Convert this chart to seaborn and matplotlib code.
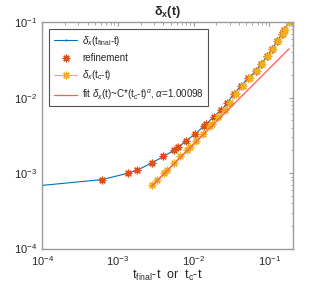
import matplotlib
matplotlib.use("Agg")
import matplotlib.pyplot as plt
import seaborn as sns

# delta_x vs (t_final - t)
t_final_gap = [1.0e-4, 6.2e-4, 1.38e-3, 1.79e-3, 2.8e-3, 4.0e-3, 5.5e-3, 6.3e-3, 8.0e-3,
               1.06e-2, 1.36e-2, 1.48e-2, 1.85e-2, 2.33e-2, 2.8e-2, 3.4e-2, 4.2e-2,
               5.3e-2, 6.6e-2, 7.8e-2, 9.4e-2, 0.110, 0.128, 0.147, 0.158, 0.180]
delta_x = [6.87e-4, 8.2e-4, 1.0e-3, 1.09e-3, 1.36e-3, 1.66e-3, 2.0e-3, 2.2e-3, 2.7e-3,
           3.3e-3, 4.2e-3, 4.5e-3, 5.6e-3, 6.9e-3, 8.5e-3, 1.13e-2, 1.41e-2,
           1.84e-2, 2.22e-2, 2.81e-2, 3.52e-2, 4.45e-2, 5.6e-2, 7.0e-2, 7.8e-2, 0.1]
# same samples against (t_c - t)
t_c_gap = [2.8e-3, 3.32e-3, 4.08e-3, 4.49e-3, 5.5e-3, 6.7e-3, 8.2e-3, 9.0e-3, 1.07e-2,
           1.33e-2, 1.63e-2, 1.75e-2, 2.12e-2, 2.6e-2, 3.07e-2, 3.67e-2, 4.47e-2,
           5.57e-2, 6.87e-2, 8.07e-2, 9.67e-2, 0.1127, 0.1307, 0.1497, 0.1607, 0.1827]
# refinement points (on the t_final curve)
ref_x = t_final_gap[1:]
ref_y = delta_x[1:]
# power-law fit end points
fit_x = [2.8e-3, 0.1827]
fit_y = [6.7e-4, 0.0444]

blue, orange, yellow, red = "#0072BD", "#D95319", "#EDB120", "#FF5A5A"

sns.set_style("white")
plt.rcParams["font.family"] = ["Liberation Sans", "DejaVu Sans"]
plt.rcParams["mathtext.fontset"] = "custom"
plt.rcParams["mathtext.rm"] = "Liberation Sans"
plt.rcParams["mathtext.it"] = "Liberation Sans:italic"
plt.rcParams["mathtext.bf"] = "Liberation Sans:bold"

fig = plt.figure(figsize=(3.24, 2.88), dpi=100)
ax = fig.add_axes([0.130, 0.137, 0.774, 0.786])
ax.set_xscale("log")
ax.set_yscale("log")

star = (8, 2, 0)
sns.lineplot(x=t_final_gap, y=delta_x, sort=False, estimator=None, ax=ax, color=blue,
             lw=0.8, marker=".", markersize=3, markeredgewidth=0,
             label=r"$\delta_x$(t$_{\mathrm{final}}$-t)")
sns.lineplot(x=ref_x, y=ref_y, sort=False, estimator=None, ax=ax, color=orange,
             linestyle="", marker=star, markersize=5.5, markeredgewidth=0.9,
             markeredgecolor=orange, label="refinement")
sns.lineplot(x=t_c_gap, y=delta_x, sort=False, estimator=None, ax=ax, color=yellow,
             lw=0.7, marker=star, markersize=5.5, markeredgewidth=0.9,
             markeredgecolor=yellow, label=r"$\delta_x$(t$_{\mathrm{c}}$-t)")
sns.lineplot(x=fit_x, y=fit_y, sort=False, estimator=None, ax=ax, color=red, lw=0.9,
             label=r"fit $\delta_x$(t)~C*(t$_{\mathrm{c}}$-t)$^{\alpha}$, $\alpha$=1.00098")

ax.set_xlim(1e-4, 0.205)
ax.set_ylim(1e-4, 1e-1)

for s in ax.spines.values():
    s.set_color("#9a9a9a")
    s.set_linewidth(1.0)
ax.tick_params(which="both", direction="in", top=True, right=True,
               colors="#9a9a9a", labelcolor="#262626", labelsize=8)
ax.tick_params(which="major", length=3)
ax.tick_params(which="minor", length=1.8)
ax.tick_params(axis="x", pad=4)

ax.set_xlabel(r"t$_{\mathrm{final}}$-t  or  t$_{\mathrm{c}}$-t", fontsize=9,
              color="#262626", labelpad=0)
ax.set_title(r"$\mathbf{\delta_x}$(t)", fontsize=9, fontweight="bold", pad=5)

leg = ax.legend(loc="upper left", fontsize=7, frameon=True, fancybox=False,
                handlelength=2.4, handletextpad=0.5, borderpad=0.45, labelspacing=0.55,
                bbox_to_anchor=(0.01, 0.99))
leg.get_frame().set_edgecolor("#262626")
leg.get_frame().set_linewidth(0.8)

fig.savefig("out.png", dpi=100)
plt.close()
